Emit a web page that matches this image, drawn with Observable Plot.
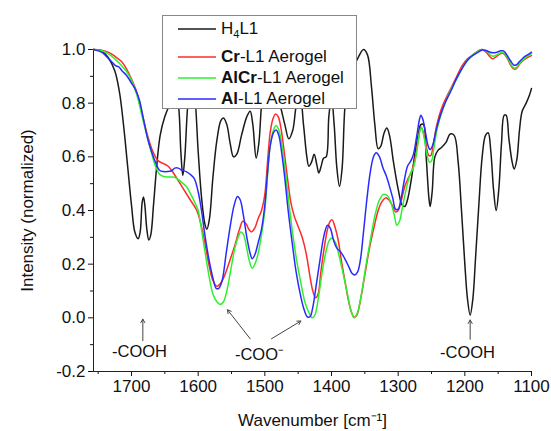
<!DOCTYPE html>
<html>
<head>
<meta charset="utf-8">
<script src="https://cdn.jsdelivr.net/npm/d3@7"></script>
<script src="https://cdn.jsdelivr.net/npm/@observablehq/plot@0.6"></script>
<style>
  html, body { margin: 0; padding: 0; background: white; }
  #wrap { position: relative; width: 551px; height: 431px; font-family: "Liberation Sans", Arial, sans-serif; }
  #legend { position: absolute; left: 162px; top: 15px; width: 195px; height: 94px; background: white; border: 1px solid #888; box-sizing: border-box; font-size: 17px; color: #111; }
  .row { position: absolute; left: 0; height: 20px; display: flex; align-items: center; white-space: nowrap; }
  .row svg { margin-left: 15px; margin-right: 5px; }
</style>
</head>
<body>
<div id="wrap"></div>
<script>
// Wavenumber domain and y domain
const xDomain = [1757, 1100];
const yDomain = [-0.2, 1.0];
const xTicks = [1700, 1600, 1500, 1400, 1300, 1200, 1100];
const xMinor = [1750, 1650, 1550, 1450, 1350, 1250, 1150];
const yTicks = [-0.2, 0.0, 0.2, 0.4, 0.6, 0.8, 1.0];
const yMinor = [-0.1, 0.1, 0.3, 0.5, 0.7, 0.9];

const seriesNames = ["H4L1", "Cr-L1 Aerogel", "AlCr-L1 Aerogel", "Al-L1 Aerogel"];
const seriesColors = ["#1a1a1a", "#ff2a2a", "#2ef02e", "#2a2aff"];

// H4L1
const h4l1Wn = [1757,1745,1735,1725,1718,1712,1706,1700,1695,1690,1687,1684,1682,1680,1677,1674,1671,1667,1662,1657,1650,1642,1635,1630,1626,1623,1620,1616,1611,1606,1600,1595,1590,1587,1583,1578,1572,1566,1562,1557,1552,1547,1542,1535,1527,1522,1518,1513,1509,1504,1498,1492,1486,1478,1470,1464,1458,1452,1447,1442,1437,1434,1430,1426,1422,1419,1415,1412,1408,1404,1400,1396,1392,1388,1384,1380,1375,1368,1360,1352,1346,1340,1335,1330,1326,1321,1317,1313,1307,1300,1294,1290,1286,1280,1275,1270,1266,1262,1258,1254,1252,1249,1245,1240,1235,1228,1222,1216,1210,1205,1200,1196,1192,1188,1184,1179,1174,1169,1165,1161,1157,1153,1149,1145,1141,1138,1134,1129,1126,1122,1118,1114,1108,1103,1100];
const h4l1Val = [1.0,0.995,0.97,0.92,0.84,0.72,0.57,0.42,0.32,0.295,0.32,0.43,0.45,0.42,0.33,0.29,0.31,0.42,0.57,0.68,0.75,0.8,0.84,0.8,0.62,0.53,0.6,0.78,0.9,0.85,0.62,0.45,0.35,0.33,0.37,0.52,0.66,0.735,0.745,0.72,0.65,0.6,0.61,0.68,0.75,0.77,0.72,0.595,0.65,0.82,0.9,0.86,0.85,0.8,0.72,0.667,0.7,0.8,0.82,0.72,0.6,0.565,0.58,0.61,0.57,0.54,0.57,0.595,0.6,0.75,0.82,0.72,0.56,0.49,0.56,0.78,0.88,0.93,0.97,1.0,0.98,0.86,0.72,0.63,0.64,0.69,0.707,0.68,0.58,0.48,0.42,0.415,0.44,0.52,0.61,0.68,0.72,0.72,0.6,0.45,0.415,0.47,0.6,0.625,0.635,0.655,0.685,0.68,0.58,0.4,0.2,0.07,0.01,0.07,0.22,0.42,0.6,0.68,0.69,0.62,0.48,0.4,0.48,0.65,0.755,0.755,0.67,0.58,0.555,0.59,0.7,0.77,0.8,0.83,0.855];

// Cr-L1 Aerogel
const crWn = [1757,1745,1735,1725,1715,1708,1700,1692,1684,1676,1668,1660,1652,1645,1640,1632,1622,1612,1602,1596,1590,1584,1578,1572,1566,1560,1553,1545,1538,1533,1528,1524,1520,1515,1510,1505,1500,1496,1492,1488,1484,1480,1476,1471,1466,1461,1456,1450,1444,1438,1432,1428,1424,1420,1416,1411,1406,1402,1399,1395,1390,1385,1380,1375,1370,1366,1362,1357,1350,1343,1336,1330,1325,1319,1314,1309,1304,1300,1296,1290,1285,1280,1275,1270,1266,1262,1258,1254,1251,1247,1242,1235,1228,1220,1212,1204,1196,1188,1180,1174,1168,1162,1158,1152,1146,1142,1137,1132,1127,1123,1118,1112,1106,1100];
const crVal = [1.0,0.997,0.99,0.975,0.955,0.93,0.89,0.84,0.76,0.68,0.62,0.585,0.575,0.565,0.55,0.52,0.48,0.44,0.4,0.35,0.28,0.2,0.14,0.118,0.13,0.16,0.21,0.27,0.33,0.36,0.35,0.33,0.32,0.335,0.37,0.4,0.46,0.58,0.69,0.74,0.76,0.75,0.71,0.62,0.52,0.43,0.38,0.34,0.3,0.24,0.15,0.1,0.075,0.09,0.17,0.26,0.33,0.36,0.365,0.34,0.29,0.21,0.14,0.07,0.02,0.002,0.01,0.06,0.16,0.26,0.34,0.4,0.43,0.447,0.44,0.42,0.395,0.4,0.43,0.49,0.52,0.545,0.59,0.66,0.71,0.69,0.64,0.605,0.605,0.65,0.72,0.78,0.82,0.86,0.9,0.94,0.965,0.98,0.995,1.0,0.99,0.972,0.965,0.975,0.985,0.985,0.97,0.945,0.928,0.928,0.945,0.96,0.97,0.977];

// AlCr-L1 Aerogel
const alcrWn = [1757,1745,1735,1725,1715,1708,1700,1692,1684,1678,1670,1664,1658,1652,1645,1638,1632,1625,1618,1612,1605,1600,1595,1590,1584,1578,1572,1567,1562,1557,1551,1545,1540,1536,1532,1528,1524,1519,1515,1510,1505,1500,1496,1492,1487,1483,1479,1474,1469,1464,1458,1452,1446,1440,1434,1429,1425,1420,1414,1408,1403,1399,1394,1389,1383,1377,1371,1366,1361,1355,1348,1341,1334,1328,1322,1316,1311,1306,1302,1298,1293,1287,1282,1277,1272,1268,1265,1261,1257,1253,1250,1246,1241,1234,1228,1220,1212,1204,1196,1188,1180,1174,1168,1162,1158,1152,1146,1142,1137,1132,1127,1123,1118,1112,1106,1100];
const alcrVal = [1.0,0.995,0.985,0.965,0.94,0.92,0.885,0.83,0.75,0.69,0.615,0.565,0.535,0.527,0.525,0.525,0.52,0.505,0.49,0.465,0.43,0.4,0.33,0.25,0.16,0.09,0.06,0.05,0.06,0.1,0.18,0.26,0.3,0.32,0.31,0.27,0.22,0.185,0.2,0.24,0.31,0.4,0.53,0.64,0.7,0.717,0.7,0.64,0.54,0.43,0.31,0.21,0.13,0.06,0.02,0.0,0.01,0.07,0.17,0.25,0.29,0.297,0.28,0.235,0.17,0.1,0.03,0.0,0.02,0.09,0.2,0.3,0.39,0.44,0.46,0.455,0.43,0.385,0.345,0.36,0.42,0.49,0.535,0.56,0.62,0.69,0.71,0.67,0.61,0.58,0.585,0.64,0.71,0.77,0.81,0.855,0.89,0.93,0.96,0.98,0.993,1.0,0.995,0.98,0.975,0.98,0.988,0.988,0.975,0.95,0.932,0.932,0.948,0.963,0.975,0.985];

// Al-L1 Aerogel
const alWn = [1757,1745,1738,1730,1724,1719,1714,1708,1700,1694,1688,1682,1676,1670,1664,1658,1652,1646,1640,1635,1630,1624,1618,1612,1606,1600,1595,1590,1584,1578,1573,1569,1564,1558,1552,1546,1541,1537,1532,1527,1522,1519,1515,1510,1505,1500,1496,1492,1487,1483,1479,1475,1470,1465,1459,1453,1447,1441,1436,1432,1428,1423,1417,1411,1406,1402,1397,1392,1386,1380,1374,1369,1365,1361,1357,1352,1347,1342,1337,1333,1328,1323,1318,1313,1308,1304,1300,1296,1291,1286,1281,1277,1272,1268,1266,1263,1259,1255,1252,1248,1243,1236,1228,1220,1212,1204,1196,1188,1180,1174,1168,1162,1158,1152,1146,1142,1137,1132,1127,1123,1118,1112,1106,1100];
const alVal = [1.0,0.99,0.975,0.955,0.94,0.935,0.92,0.905,0.875,0.85,0.81,0.74,0.67,0.62,0.58,0.55,0.545,0.545,0.548,0.558,0.558,0.55,0.545,0.535,0.52,0.47,0.4,0.31,0.22,0.15,0.11,0.11,0.14,0.24,0.34,0.42,0.452,0.44,0.38,0.3,0.24,0.22,0.235,0.28,0.33,0.42,0.54,0.64,0.69,0.7,0.68,0.62,0.52,0.4,0.28,0.17,0.09,0.03,0.003,0.005,0.04,0.12,0.22,0.31,0.345,0.335,0.29,0.26,0.245,0.22,0.19,0.165,0.16,0.17,0.21,0.32,0.44,0.54,0.6,0.615,0.6,0.56,0.53,0.49,0.445,0.405,0.405,0.44,0.51,0.565,0.585,0.61,0.68,0.74,0.755,0.74,0.69,0.64,0.627,0.645,0.7,0.76,0.81,0.85,0.895,0.93,0.96,0.978,0.99,0.998,0.996,0.99,0.988,0.99,0.995,0.995,0.98,0.96,0.943,0.942,0.955,0.97,0.98,0.99];

// Annotations
const annoText = ["-COOH", "-COO\u207B", "-COOH"];
const annoX = [1688, 1508, 1196];
const annoY = [-0.128, -0.138, -0.13];
const arrowX1 = [1683, 1522, 1490, 1192];
const arrowY1 = [-0.085, -0.078, -0.078, -0.08];
const arrowX2 = [1683, 1556, 1446, 1192];
const arrowY2 = [-0.005, 0.03, -0.012, -0.008];

const toRows = (wn, val, name) => wn.map((w, i) => ({wn: w, v: val[i], s: name}));
const series = [
  toRows(h4l1Wn, h4l1Val, seriesNames[0]),
  toRows(crWn, crVal, seriesNames[1]),
  toRows(alcrWn, alcrVal, seriesNames[2]),
  toRows(alWn, alVal, seriesNames[3])
];
const annos = annoText.map((t, i) => ({t, x: annoX[i], y: annoY[i]}));
const arrows = arrowX1.map((x1, i) => ({x1, y1: arrowY1[i], x2: arrowX2[i], y2: arrowY2[i]}));

const plot = Plot.plot({
  width: 551,
  height: 431,
  marginLeft: 93,
  marginRight: 20,
  marginTop: 49,
  marginBottom: 60,
  style: {fontFamily: "'Liberation Sans', Arial, sans-serif", fontSize: "17px", color: "#111", background: "white", overflow: "visible"},
  x: {domain: xDomain},
  y: {domain: yDomain},
  marks: [
    Plot.axisX({ticks: xTicks, tickSize: 5, tickPadding: 3, tickFormat: d => String(d), label: "Wavenumber [cm\u207B\u00B9]", labelAnchor: "center", labelOffset: 54, labelArrow: "none"}),
    Plot.axisX({ticks: xMinor, tickSize: 3, tickFormat: () => "", label: null}),
    Plot.axisY({ticks: yTicks, tickSize: 5, tickPadding: 3, tickFormat: d => d.toFixed(1), label: "Intensity (normalized)", labelAnchor: "center", labelOffset: 73, labelArrow: "none"}),
    Plot.axisY({ticks: yMinor, tickSize: 3, tickFormat: () => "", label: null}),
    Plot.ruleX([xDomain[0]], {y1: yDomain[0], y2: yDomain[1], stroke: "#222"}),
    Plot.ruleY([yDomain[0]], {x1: xDomain[0], x2: xDomain[1], stroke: "#222"}),
    ...series.map((d, i) => Plot.line(d, {x: "wn", y: "v", stroke: seriesColors[i], strokeWidth: 1.5, curve: "catmull-rom"})),
    Plot.arrow(arrows, {x1: "x1", y1: "y1", x2: "x2", y2: "y2", stroke: "#444", strokeWidth: 1, headLength: 6}),
    Plot.text(annos, {x: "x", y: "y", text: "t", fontSize: 16.5, fill: "#111"})
  ]
});

const wrap = document.getElementById("wrap");
wrap.appendChild(plot);
plot.style.position = "absolute";
plot.style.left = "0px";
plot.style.top = "0px";

// Legend
const legend = document.createElement("div");
legend.id = "legend";
const labelsHtml = [
  "H<sub style='font-size:11px;vertical-align:-4px'>4</sub>L1",
  "<b>Cr</b>-L1 Aerogel",
  "<b>AlCr</b>-L1 Aerogel",
  "<b>Al</b>-L1 Aerogel"
];
const rowTops = [3, 31, 52, 73];
labelsHtml.forEach((h, i) => {
  const row = document.createElement("div");
  row.className = "row";
  row.style.top = rowTops[i] + "px";
  row.innerHTML = `<svg width="38" height="4"><line x1="0" x2="38" y1="2" y2="2" stroke="${seriesColors[i]}" stroke-width="1.5"/></svg><span>${h}</span>`;
  legend.appendChild(row);
});
wrap.appendChild(legend);
</script>
</body>
</html>
